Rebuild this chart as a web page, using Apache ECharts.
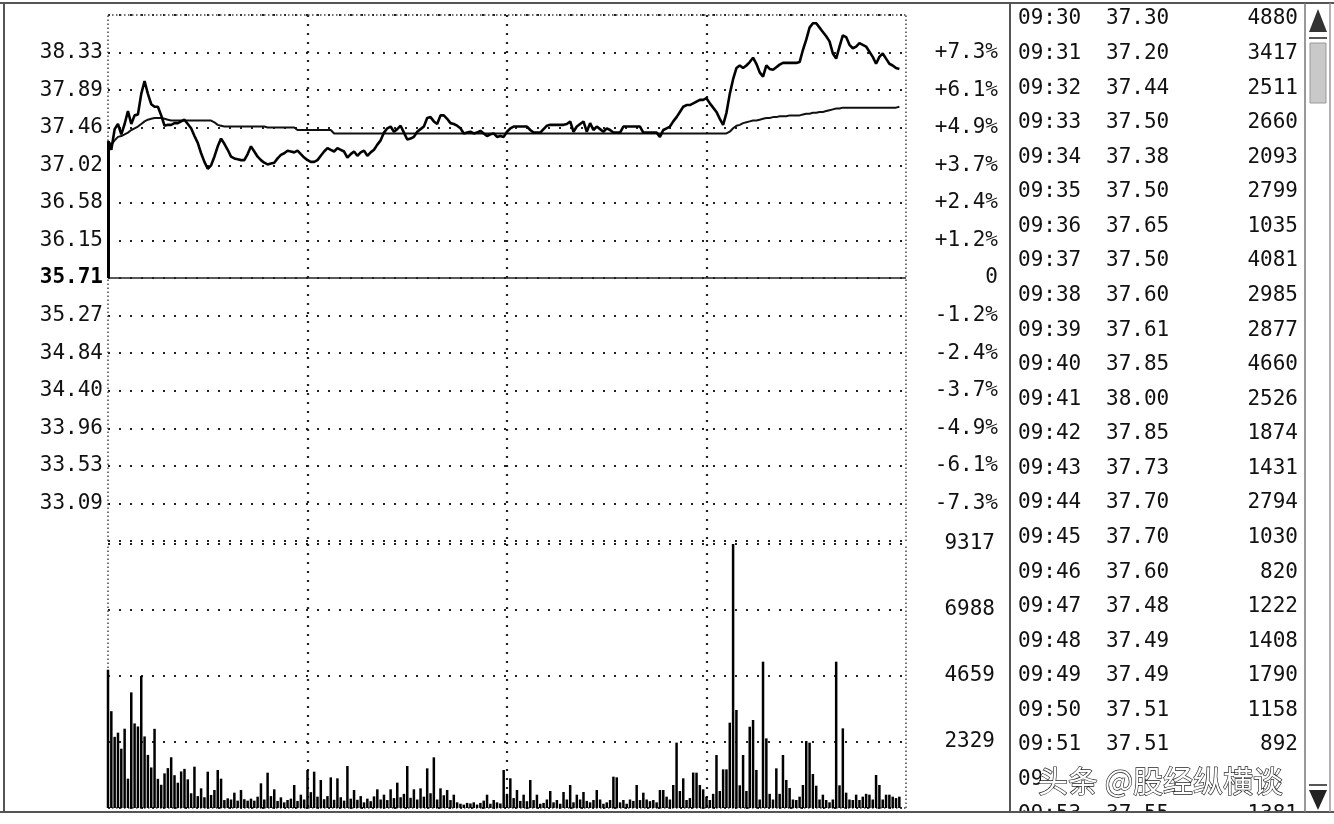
<!DOCTYPE html>
<html>
<head>
<meta charset="utf-8">
<title>分时走势</title>
<script src="https://cdn.jsdelivr.net/npm/echarts@6/dist/echarts.min.js"></script>
<style>
  html, body { margin: 0; padding: 0; background: #fff; }
  #chart { width: 1334px; height: 824px; }
</style>
</head>
<body>
<div id="chart"></div>
<script>
// 昨收与坐标刻度
const PREV_CLOSE = 35.71
const PRICE_TICKS = ['', '33.09', '33.53', '33.96', '34.40', '34.84', '35.27', '35.71', '36.15', '36.58', '37.02', '37.46', '37.89', '38.33', '']
const PCT_TICKS = ['', '-7.3%', '-6.1%', '-4.9%', '-3.7%', '-2.4%', '-1.2%', '0', '+1.2%', '+2.4%', '+3.7%', '+4.9%', '+6.1%', '+7.3%', '']
const VOL_TICKS = ['', '2329', '4659', '6988', '9317']
const VOL_MAX = 9317

// 每分钟成交价
const PRICE = [
  37.30, 37.20, 37.44, 37.50, 37.38, 37.50, 37.65, 37.50, 37.60, 37.61,
  37.85, 38.00, 37.85, 37.73, 37.70, 37.70, 37.60, 37.48, 37.49, 37.49,
  37.51, 37.51, 37.53, 37.55, 37.50, 37.45, 37.36, 37.28, 37.16, 37.06,
  36.98, 37.02, 37.12, 37.24, 37.33, 37.27, 37.20, 37.12, 37.10, 37.09,
  37.08, 37.08, 37.15, 37.24, 37.18, 37.12, 37.08, 37.05, 37.03, 37.04,
  37.05, 37.10, 37.14, 37.16, 37.19, 37.18, 37.17, 37.19, 37.15, 37.11,
  37.08, 37.06, 37.06, 37.08, 37.13, 37.18, 37.22, 37.20, 37.18, 37.22,
  37.20, 37.18, 37.11, 37.15, 37.18, 37.13, 37.17, 37.19, 37.13, 37.17,
  37.20, 37.26, 37.31, 37.40, 37.45, 37.47, 37.41, 37.44, 37.48, 37.40,
  37.32, 37.33, 37.35, 37.41, 37.44, 37.47, 37.57, 37.58, 37.53, 37.50,
  37.60, 37.60, 37.56, 37.51, 37.50, 37.48, 37.45, 37.39, 37.40, 37.41,
  37.39, 37.40, 37.42, 37.39, 37.36, 37.38, 37.39, 37.35, 37.36, 37.35,
  37.41, 37.45, 37.47, 37.47, 37.47, 37.47, 37.47, 37.43, 37.40, 37.40,
  37.40, 37.44, 37.48, 37.49, 37.49, 37.49, 37.49, 37.49, 37.50, 37.53,
  37.41, 37.47, 37.50, 37.53, 37.41, 37.51, 37.43, 37.47, 37.44, 37.41,
  37.45, 37.43, 37.40, 37.40, 37.40, 37.47, 37.47, 37.47, 37.47, 37.47,
  37.47, 37.40, 37.40, 37.40, 37.40, 37.40, 37.35, 37.43, 37.45, 37.47,
  37.53, 37.58, 37.64, 37.70, 37.72, 37.72, 37.74, 37.76, 37.78, 37.78,
  37.80, 37.74, 37.69, 37.64, 37.56, 37.49, 37.63, 37.85, 38.02, 38.15,
  38.18, 38.15, 38.18, 38.22, 38.27, 38.20, 38.10, 38.05, 38.18, 38.14,
  38.13, 38.16, 38.19, 38.21, 38.21, 38.21, 38.21, 38.21, 38.22, 38.36,
  38.48, 38.62, 38.67, 38.67, 38.62, 38.57, 38.52, 38.46, 38.32, 38.26,
  38.40, 38.53, 38.51, 38.42, 38.38, 38.40, 38.44, 38.42, 38.40, 38.34,
  38.28, 38.20, 38.28, 38.32, 38.26, 38.20, 38.18, 38.15, 38.14
]

// 均价线
const AVG = [
  37.30, 37.26, 37.31, 37.35, 37.36, 37.38, 37.40, 37.43, 37.45, 37.47,
  37.50, 37.53, 37.55, 37.56, 37.57, 37.57, 37.57, 37.56, 37.55, 37.54,
  37.54, 37.54, 37.54, 37.54, 37.54, 37.54, 37.54, 37.54, 37.54, 37.54,
  37.54, 37.54, 37.52, 37.49, 37.48, 37.47, 37.47, 37.47, 37.47, 37.47,
  37.47, 37.47, 37.47, 37.47, 37.47, 37.47, 37.47, 37.47, 37.46, 37.46,
  37.46, 37.46, 37.46, 37.46, 37.46, 37.46, 37.46, 37.43, 37.43, 37.43,
  37.43, 37.43, 37.43, 37.43, 37.43, 37.43, 37.43, 37.43, 37.39, 37.39,
  37.39, 37.39, 37.39, 37.39, 37.39, 37.39, 37.39, 37.39, 37.39, 37.39,
  37.39, 37.39, 37.39, 37.39, 37.39, 37.39, 37.39, 37.39, 37.39, 37.39,
  37.39, 37.39, 37.39, 37.39, 37.39, 37.39, 37.39, 37.39, 37.39, 37.39,
  37.39, 37.39, 37.39, 37.39, 37.39, 37.39, 37.39, 37.39, 37.39, 37.39,
  37.39, 37.39, 37.39, 37.39, 37.39, 37.39, 37.39, 37.39, 37.39, 37.39,
  37.39, 37.39, 37.39, 37.39, 37.39, 37.39, 37.39, 37.39, 37.39, 37.39,
  37.39, 37.39, 37.39, 37.39, 37.39, 37.39, 37.39, 37.39, 37.39, 37.39,
  37.39, 37.39, 37.39, 37.39, 37.39, 37.39, 37.39, 37.39, 37.39, 37.39,
  37.39, 37.39, 37.39, 37.39, 37.39, 37.39, 37.39, 37.39, 37.39, 37.39,
  37.39, 37.39, 37.39, 37.39, 37.39, 37.39, 37.39, 37.39, 37.39, 37.39,
  37.39, 37.39, 37.39, 37.39, 37.39, 37.39, 37.39, 37.39, 37.39, 37.39,
  37.39, 37.39, 37.39, 37.39, 37.39, 37.39, 37.39, 37.41, 37.45, 37.48,
  37.49, 37.51, 37.52, 37.53, 37.54, 37.54, 37.55, 37.56, 37.57, 37.57,
  37.58, 37.58, 37.59, 37.59, 37.59, 37.60, 37.60, 37.60, 37.60, 37.61,
  37.62, 37.62, 37.63, 37.63, 37.64, 37.64, 37.65, 37.66, 37.67, 37.68,
  37.68, 37.69, 37.69, 37.69, 37.69, 37.69, 37.69, 37.69, 37.69, 37.69,
  37.69, 37.69, 37.69, 37.69, 37.69, 37.69, 37.69, 37.69, 37.70
]

// 每分钟成交量
const VOLUME = [
  4880, 3417, 2511, 2660, 2093, 2799, 1035, 4081, 2985, 2877,
  4660, 2526, 1874, 1431, 2794, 1030, 820, 1222, 1408, 1790,
  1158, 892, 1290, 1381, 1012, 520, 1459, 420, 694, 380,
  1282, 460, 635, 1341, 1035, 280, 341, 300, 541, 260,
  635, 310, 259, 330, 259, 400, 871, 300, 1247, 420,
  659, 250, 376, 200, 282, 330, 812, 250, 470, 300,
  1341, 560, 1282, 400, 988, 310, 420, 1082, 290, 1047,
  380, 260, 1482, 330, 635, 290, 420, 200, 330, 240,
  410, 659, 300, 470, 280, 659, 350, 894, 380, 500,
  1482, 360, 659, 300, 694, 400, 1400, 520, 1788, 300,
  694, 450, 635, 280, 470, 200, 150, 120, 180, 160,
  200, 120, 180, 260, 470, 150, 282, 200, 160, 1341,
  500, 1047, 350, 635, 250, 470, 240, 988, 280, 470,
  150, 180, 300, 600, 200, 282, 150, 565, 300, 812,
  200, 470, 300, 565, 250, 200, 282, 635, 300, 150,
  200, 282, 1106, 1082, 200, 282, 150, 300, 250, 812,
  280, 541, 300, 240, 282, 200, 635, 635, 400, 300,
  812, 2306, 600, 1047, 282, 350, 1251, 1247, 812, 659,
  400, 282, 500, 1870, 600, 1364, 1364, 3011, 9317, 3458,
  800, 1870, 600, 2870, 3105, 1341, 300, 5164, 2458, 500,
  300, 1400, 500, 1870, 988, 706, 300, 282, 400, 812,
  2364, 2306, 1200, 788, 300, 470, 282, 200, 300, 5164,
  800, 2811, 541, 300, 282, 470, 282, 400, 500, 470,
  300, 1165, 812, 300, 470, 470, 400, 350, 400
]

// 分时成交明细
const TABLE_TIMES = ['09:30', '09:31', '09:32', '09:33', '09:34', '09:35', '09:36', '09:37', '09:38', '09:39', '09:40', '09:41',
  '09:42', '09:43', '09:44', '09:45', '09:46', '09:47', '09:48', '09:49', '09:50', '09:51', '09:52', '09:53']
const TABLE_PRICES = ['37.30', '37.20', '37.44', '37.50', '37.38', '37.50', '37.65', '37.50', '37.60', '37.61', '37.85', '38.00',
  '37.85', '37.73', '37.70', '37.70', '37.60', '37.48', '37.49', '37.49', '37.51', '37.51', '37.53', '37.55']
const TABLE_VOLS = ['4880', '3417', '2511', '2660', '2093', '2799', '1035', '4081', '2985', '2877', '4660', '2526',
  '1874', '1431', '2794', '1030', '820', '1222', '1408', '1790', '1158', '892', '1290', '1381']

const WATERMARK = '头条 @股经纵横谈'

// 241 个分钟点：9:30-11:30, 13:01-15:00
const MINUTES = []
for (let m = 9 * 60 + 30; m <= 11 * 60 + 30; m++) MINUTES.push(m)
for (let m = 13 * 60 + 1; m <= 15 * 60; m++) MINUTES.push(m)
const CATEGORIES = MINUTES.map(m => String(Math.floor(m / 60)).padStart(2, '0') + ':' + String(m % 60).padStart(2, '0'))

const PRICE_STEP = 2.62 / 6
const PRICE_MIN = PREV_CLOSE - 7 * PRICE_STEP
const PRICE_MAX = PREV_CLOSE + 7 * PRICE_STEP
const priceIndex = v => Math.round((v - PRICE_MIN) / PRICE_STEP)

const FONT = '"DejaVu Sans Mono", "Liberation Mono", monospace'
const INK = '#111'
const sparseDots = { color: '#222', width: 2.2, type: [2, 9], cap: 'butt' }
const denseDots = { color: '#444', width: 1.5, type: [1.5, 2.5], cap: 'butt' }

const chart = echarts.init(document.getElementById('chart'))

const graphics = []
TABLE_TIMES.forEach((t, i) => {
  const y = 19 + i * 34.57
  const base = { font: '21px ' + FONT, fill: INK, textVerticalAlign: 'middle' }
  graphics.push({ type: 'text', z: 10, style: { ...base, text: t, x: 1018, y, textAlign: 'left' } })
  graphics.push({ type: 'text', z: 10, style: { ...base, text: TABLE_PRICES[i], x: 1106, y, textAlign: 'left' } })
  graphics.push({ type: 'text', z: 10, style: { ...base, text: TABLE_VOLS[i], x: 1298, y, textAlign: 'right' } })
})

// 水印
graphics.push({ type: 'rect', z: 20, shape: { x: 1041, y: 764, width: 262, height: 34 }, style: { fill: '#fff' } })
graphics.push({
  type: 'text', z: 21,
  style: {
    text: WATERMARK, x: 1038, y: 781, textAlign: 'left', textVerticalAlign: 'middle',
    font: '30px "Noto Sans CJK SC"', fill: '#fff', stroke: '#222', lineWidth: 1.3
  }
})

// 底部遮挡与边框
graphics.push({ type: 'rect', z: 30, shape: { x: 1010, y: 813, width: 324, height: 11 }, style: { fill: '#fff' } })
const frame = { stroke: '#555', lineWidth: 2 }
graphics.push({ type: 'line', z: 40, shape: { x1: 0, y1: 3, x2: 1334, y2: 3 }, style: frame })
graphics.push({ type: 'line', z: 40, shape: { x1: 0, y1: 812, x2: 1334, y2: 812 }, style: frame })
graphics.push({ type: 'line', z: 40, shape: { x1: 4, y1: 3, x2: 4, y2: 812 }, style: frame })
graphics.push({ type: 'line', z: 40, shape: { x1: 1010, y1: 3, x2: 1010, y2: 812 }, style: frame })
graphics.push({ type: 'line', z: 40, shape: { x1: 1305, y1: 3, x2: 1305, y2: 812 }, style: { stroke: '#777', lineWidth: 1.5 } })
graphics.push({ type: 'line', z: 40, shape: { x1: 1330, y1: 3, x2: 1330, y2: 812 }, style: { stroke: '#999', lineWidth: 1.5 } })

// 滚动条
graphics.push({ type: 'polygon', z: 40, shape: { points: [[1318, 9], [1309, 32], [1327, 32]] }, style: { fill: '#333' } })
graphics.push({ type: 'line', z: 40, shape: { x1: 1309, y1: 38, x2: 1327, y2: 38 }, style: { stroke: '#555', lineWidth: 2 } })
graphics.push({ type: 'rect', z: 40, shape: { x: 1310, y: 43, width: 16, height: 60 }, style: { fill: '#c9c9c9', stroke: '#999', lineWidth: 1 } })
graphics.push({ type: 'line', z: 40, shape: { x1: 1309, y1: 785, x2: 1327, y2: 785 }, style: { stroke: '#555', lineWidth: 2 } })
graphics.push({ type: 'polygon', z: 40, shape: { points: [[1309, 790], [1327, 790], [1318, 810]] }, style: { fill: '#222' } })

const xAxisBase = {
  type: 'category',
  data: CATEGORIES,
  boundaryGap: false,
  position: 'top',
  axisLine: { show: true, lineStyle: denseDots },
  axisTick: { show: false },
  axisLabel: { show: false },
  splitLine: {
    show: true,
    interval: idx => idx > 0 && idx < 240 && idx % 60 === 0,
    lineStyle: { color: '#222', width: 2.2, type: [2, 7], cap: 'butt' }
  }
}

const option = {
  animation: false,
  backgroundColor: '#fff',
  grid: [
    { left: 108, right: 428, top: 15, height: 526 },
    { left: 108, right: 428, top: 544, height: 264 }
  ],
  xAxis: [
    { ...xAxisBase, gridIndex: 0 },
    { ...xAxisBase, gridIndex: 1 }
  ],
  yAxis: [
    {
      type: 'value', gridIndex: 0, position: 'left',
      min: PRICE_MIN, max: PRICE_MAX, interval: PRICE_STEP,
      axisLine: { show: true, lineStyle: denseDots },
      axisTick: { show: false },
      splitLine: { show: true, lineStyle: sparseDots },
      axisLabel: {
        margin: 5, color: INK, fontFamily: FONT, fontSize: 21,
        showMinLabel: true, showMaxLabel: true,
        formatter: v => {
          const t = PRICE_TICKS[priceIndex(v)] || ''
          return t === '35.71' ? '{b|' + t + '}' : t
        },
        rich: { b: { fontFamily: FONT, fontSize: 21, fontWeight: 'bold', color: '#000' } }
      }
    },
    {
      type: 'value', gridIndex: 0, position: 'right',
      min: PRICE_MIN, max: PRICE_MAX, interval: PRICE_STEP,
      axisLine: { show: true, lineStyle: denseDots },
      axisTick: { show: false },
      splitLine: { show: false },
      axisLabel: {
        margin: 92, align: 'right', color: INK, fontFamily: FONT, fontSize: 21,
        showMinLabel: true, showMaxLabel: true,
        formatter: v => PCT_TICKS[priceIndex(v)] || ''
      }
    },
    {
      type: 'value', gridIndex: 1, position: 'left',
      min: 0, max: VOL_MAX, interval: VOL_MAX / 4,
      axisLine: { show: true, lineStyle: denseDots },
      axisTick: { show: false },
      splitLine: { show: true, lineStyle: sparseDots },
      axisLabel: { show: false }
    },
    {
      type: 'value', gridIndex: 1, position: 'right',
      min: 0, max: VOL_MAX, interval: VOL_MAX / 4,
      axisLine: { show: true, lineStyle: denseDots },
      axisTick: { show: false },
      splitLine: { show: false },
      axisLabel: {
        margin: 89, align: 'right', color: INK, fontFamily: FONT, fontSize: 21,
        showMinLabel: true, showMaxLabel: true,
        formatter: v => VOL_TICKS[Math.round(v / (VOL_MAX / 4))] || ''
      }
    }
  ],
  series: [
    {
      name: '均价',
      type: 'line',
      xAxisIndex: 0, yAxisIndex: 0,
      data: AVG,
      symbol: 'none',
      lineStyle: { color: INK, width: 2 },
      z: 3
    },
    {
      name: '价格',
      type: 'line',
      xAxisIndex: 0, yAxisIndex: 0,
      data: PRICE,
      symbol: 'none',
      lineStyle: { color: '#000', width: 2.6 },
      z: 4,
      markLine: {
        silent: true,
        symbol: 'none',
        label: { show: false },
        data: [
          { yAxis: PREV_CLOSE, lineStyle: { color: '#222', width: 1.5, type: 'solid' } },
          [
            { coord: [0, PREV_CLOSE], lineStyle: { color: '#000', width: 3, type: 'solid' } },
            { coord: [0, PRICE[0]] }
          ]
        ]
      }
    },
    {
      name: '成交量',
      type: 'bar',
      xAxisIndex: 1, yAxisIndex: 2,
      data: VOLUME,
      barWidth: 2.5,
      itemStyle: { color: '#000' }
    }
  ],
  graphic: graphics
}

chart.setOption(option)
window.addEventListener('resize', () => chart.resize())
</script>
</body>
</html>
